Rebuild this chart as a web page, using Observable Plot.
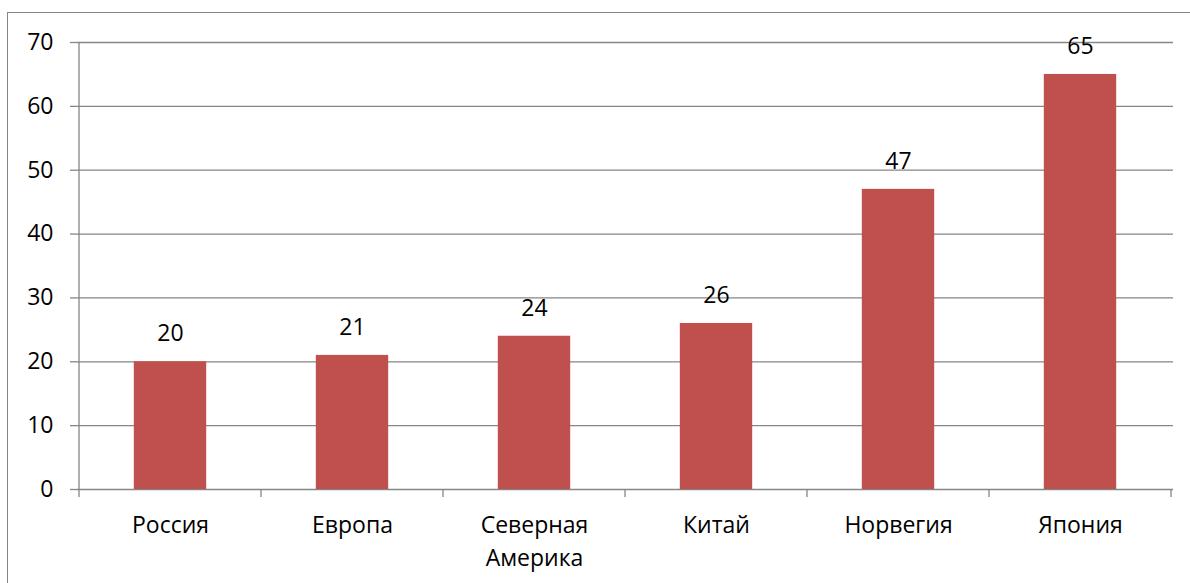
<!DOCTYPE html>
<html><head><meta charset="utf-8">
<script src="https://cdn.jsdelivr.net/npm/d3@7"></script>
<script src="https://cdn.jsdelivr.net/npm/@observablehq/plot@0.6"></script>
<style>
html,body{margin:0;padding:0;background:#fff;}
#wrap{position:relative;width:1190px;height:583px;overflow:hidden;}
#frame{position:absolute;left:7px;top:12px;width:1200px;height:600px;border-left:1px solid #868686;border-top:1px solid #868686;}
#chart{position:absolute;left:0;top:0;}
</style></head><body>
<div id="wrap"><div id="frame"></div><div id="chart"></div></div>
<script>
const categories = ["Россия", "Европа", "Северная Америка", "Китай", "Норвегия", "Япония"];
const values = [20, 21, 24, 26, 47, 65];
const yTicks = [0, 10, 20, 30, 40, 50, 60, 70];

const data = categories.map((c, i) => ({category: c, value: values[i]}));
const W = 1190, H = 583;
const mL = 77, mR = 17, mT = 42, mB = 94;
const step = (W - mL - mR) / categories.length;
const barInset = step * 0.3;
const gray = "#868686";
const fs = 23;

const chart = Plot.plot({
  width: W, height: H,
  marginLeft: mL, marginRight: mR, marginTop: mT, marginBottom: mB,
  style: {fontFamily: "'Open Sans', sans-serif", fontSize: fs + "px", color: "#000", background: "transparent", overflow: "visible"},
  x: {domain: categories, padding: 0},
  y: {domain: [0, 70], ticks: yTicks},
  marks: [
    Plot.ruleY(yTicks, {stroke: gray, strokeWidth: 1.3}),
    Plot.axisY({ticks: yTicks, tickSize: 7, tickPadding: 17, stroke: gray, strokeWidth: 1.3, fontSize: fs, label: null}),
    Plot.barY(data, {x: "category", y: "value", fill: "#C0504D", insetLeft: barInset, insetRight: barInset}),
    Plot.text(data, {x: "category", y: "value", text: d => String(d.value), dy: -28, fill: "#000", fontSize: fs}),
    Plot.axisX({tickSize: 0, tickPadding: 20, tickFormat: d => d.replace(" ", "\n"), lineHeight: 1.43, fontSize: fs, label: null})
  ]
});
document.getElementById("chart").appendChild(chart);

// axis lines and category boundary ticks, placed with the chart's own scales
const xs = chart.scale("x"), ys = chart.scale("y");
const svg = d3.select(chart);
const g = svg.append("g").attr("stroke", gray).attr("stroke-width", 1.3);
const x0 = xs.apply(categories[0]);
g.append("line").attr("x1", x0).attr("x2", x0).attr("y1", ys.apply(70)).attr("y2", ys.apply(0));
const bounds = categories.map(c => xs.apply(c)).concat([xs.apply(categories[categories.length - 1]) + xs.bandwidth]);
bounds.forEach(b => {
  g.append("line").attr("x1", b).attr("x2", b).attr("y1", ys.apply(0)).attr("y2", ys.apply(0) + 8);
});
</script>
</body></html>
